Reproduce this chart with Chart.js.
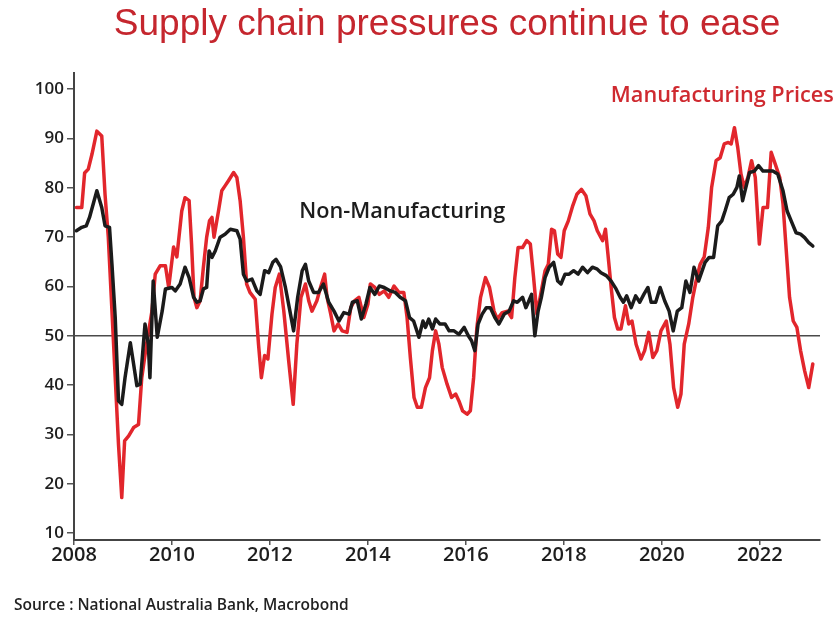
<!DOCTYPE html>
<html>
<head>
<meta charset="utf-8">
<script src="https://cdn.jsdelivr.net/npm/chart.js@4"></script>
<style>
  html, body { margin: 0; padding: 0; background: #fff; }
  #wrap { width: 837px; height: 619px; }
</style>
</head>
<body>
<div id="wrap"><canvas id="grafico" width="837" height="619"></canvas></div>
<script>
// months since Jan 2008, with the index value read at each point
const mesesManuf = [
  0.6, 1.9, 2.6, 3.5, 4.4, 5.6, 6.8, 7.6, 8.4, 9.3,
  10.1, 10.9, 11.7, 12.4, 13.4, 14.6, 15.8, 16.6, 17.9, 19.1,
  19.9, 21.1, 22.4, 23.2, 24.4, 25.2, 26.4, 27.2, 28.2, 28.8,
  29.4, 30.1, 30.9, 31.7, 32.5, 33.2, 33.8, 34.3, 35.4, 36.2,
  37, 37.8, 39.1, 39.9, 40.7, 41.5, 42.3, 43.1, 44.4, 45.2,
  45.9, 46.7, 47.5, 48.5, 49.3, 50.3, 51.4, 52.6, 53.7, 54.6,
  55.6, 56.7, 57.5, 58.3, 59.5, 60.5, 61.4, 62, 62.9, 63.7,
  64.7, 65.7, 66.9, 67.8, 68.7, 69.8, 71, 72, 72.6, 73.7,
  74.8, 76, 77.1, 78.4, 79.6, 80.8, 81.6, 82.4, 83.3, 84.1,
  85.1, 86.1, 87.1, 87.8, 88.6, 89.4, 90.2, 91.4, 92.5, 93.5,
  94.3, 95.2, 96.3, 97.1, 97.9, 98.7, 99.6, 100.8, 101.8, 102.9,
  103.7, 104.9, 106.2, 107.2, 108, 108.8, 109.9, 110.9, 111.8, 112.6,
  113.4, 114.2, 115.4, 116.2, 117, 117.7, 118.5, 119.3, 120.1, 121.1,
  122.2, 123.2, 124.3, 125.4, 126.4, 127.4, 128.2, 129.5, 130.2, 130.8,
  131.6, 132.4, 133.2, 134, 135.1, 135.9, 136.7, 137.7, 138.9, 139.8,
  140.8, 141.8, 142.8, 143.8, 145.1, 146, 146.9, 147.9, 148.7, 149.5,
  150.6, 151.6, 152.4, 153.4, 154.4, 155.4, 156.2, 157.3, 158.3, 159.3,
  160.3, 161, 161.8, 162.6, 163.4, 164.2, 165.1, 166, 166.9, 167.9,
  168.8, 169.9, 170.8, 171.8, 172.9, 173.7, 174.5, 175.3, 176.2, 177.1,
  178, 179, 180, 181
];
const precosManuf = [
  76, 76, 83, 83.8, 86.8, 91.5, 90.5, 78.7, 70, 55,
  41.5, 28, 17.2, 28.7, 29.7, 31.4, 32, 41.5, 49, 55,
  62.5, 64.2, 64.2, 59.8, 68, 66, 75.3, 78, 77.4, 68.6,
  57.8, 55.7, 57.1, 63.9, 70, 73.3, 74, 70, 75.3, 79.4,
  80.4, 81.4, 83.1, 82.1, 77.4, 70, 60.5, 58.8, 57.4, 48.3,
  41.5, 46, 45.3, 54.4, 59.8, 62.5, 55, 44.9, 36.1, 48.3,
  57.8, 60.5, 57.1, 55, 57.1, 60.1, 62.5, 57.8, 54.4, 51,
  52.4, 51, 50.7, 55.7, 57.1, 57.8, 53.7, 56.4, 60.5, 59.8,
  58.4, 59.1, 57.8, 60.1, 58.8, 58.8, 53.7, 45.6, 37.5, 35.5,
  35.5, 39.5, 41.5, 47, 51, 48.3, 43.6, 40.2, 37.5, 38.2,
  36.8, 34.8, 34.1, 34.8, 41.5, 51.7, 57.8, 61.8, 59.8, 55,
  53.4, 54.7, 55, 53.7, 61.8, 67.9, 67.9, 69.3, 68.6, 61.8,
  54.4, 57.8, 63.2, 64.5, 71.6, 71.3, 66.6, 65.9, 71.3, 73.3,
  76.4, 78.7, 79.7, 78.4, 74.7, 73.3, 71.3, 69.3, 71.6, 66.6,
  59.8, 53.7, 51.4, 51.4, 56.1, 52.4, 53, 48.3, 45.3, 47,
  50.7, 45.6, 47, 51, 53, 48.3, 39.5, 35.5, 38.2, 48.3,
  52.4, 57.8, 61.1, 64.5, 66, 72, 80, 85.5, 86.1, 88.9,
  89.2, 88.9, 92.2, 88.2, 82.8, 80.1, 82.1, 85.5, 82.1, 68.6,
  76, 76, 87.2, 84.8, 82.1, 76.7, 67.2, 57.8, 53, 51.7,
  47, 42.9, 39.5, 44.3
];

const mesesNaoManuf = [
  0.6, 1.9, 3, 3.8, 5.6, 6.8, 7.6, 8.7, 9.3, 10.1,
  10.9, 11.7, 12.5, 13.8, 14.6, 15.4, 16.2, 17.4, 18.2, 18.6,
  19.4, 20.4, 21.6, 22.4, 24, 24.8, 26, 27.2, 28.2, 29.3,
  30.1, 30.9, 31.7, 32.5, 33.1, 33.8, 34.6, 35.8, 37, 38.3,
  39.9, 40.7, 41.5, 42.3, 43.6, 44.8, 45.6, 46.7, 47.7, 48.7,
  49.5, 50.6, 51.8, 52.9, 53.8, 54.8, 55.9, 56.7, 57.5, 58.7,
  59.9, 61.1, 62.4, 63.7, 64.9, 66.1, 67.4, 68.2, 69.4, 70.4,
  71.5, 72.5, 73.7, 74.8, 76, 77.5, 78.7, 79.9, 81.2, 82.2,
  83.2, 84.5, 85.5, 86.1, 86.9, 87.8, 88.6, 89.6, 90.9, 91.9,
  93.1, 94.3, 95.6, 96.6, 97.4, 98.2, 99, 100, 101, 102,
  103.1, 104.1, 105.4, 106.6, 107.7, 108.6, 109.9, 110.7, 111.3, 112.1,
  112.9, 113.7, 114.5, 115.4, 116.4, 117.5, 118.5, 119.3, 120.3, 121.3,
  122.4, 123.5, 124.6, 125.8, 127, 128.2, 129.1, 130.4, 131.6, 132.8,
  133.8, 134.6, 135.4, 136.5, 137.6, 138.6, 139.6, 140.6, 141.4, 142.5,
  143.6, 144.7, 145.8, 146.8, 147.8, 148.9, 149.9, 150.9, 151.9, 153,
  154.6, 155.6, 156.7, 157.7, 158.7, 159.5, 160.5, 161.5, 162.4, 163,
  163.8, 164.6, 165.5, 166.7, 167.7, 168.8, 170, 171.2, 172.4, 173.7,
  174.7, 175.7, 176.9, 178, 179, 180, 181
];
const precosNaoManuf = [
  71.3, 72, 72.3, 74, 79.4, 76, 72.3, 72, 64.5, 53.7,
  36.8, 36.1, 41.5, 48.6, 44.3, 39.9, 40.2, 52.4, 48.3, 41.5,
  61.1, 49.7, 55, 59.5, 59.8, 59.1, 60.5, 63.9, 61.8, 57.8,
  56.8, 57.1, 59.5, 59.8, 67.2, 65.9, 67.2, 70, 70.6, 71.6,
  71.3, 69.6, 62.5, 61.1, 61.5, 59.1, 58.4, 63.2, 62.8, 64.9,
  65.5, 64, 59.8, 55, 51, 57.8, 63.2, 64.5, 61.1, 58.8,
  58.8, 60.5, 56.8, 55, 53, 54.7, 54.4, 56.8, 57.1, 53.4,
  56.4, 59.8, 58.4, 60.1, 59.8, 59.1, 58.8, 57.8, 57.1, 53.7,
  53, 49.7, 53, 51.7, 53.4, 51.4, 53.4, 52.4, 52.4, 51,
  51, 50.3, 51.7, 50, 49, 47, 52.4, 54.4, 55.7, 55.7,
  53.7, 52.4, 54.4, 55, 57.1, 56.8, 57.8, 55.7, 56.8, 58.4,
  50, 55, 57.8, 61.8, 63.9, 64.9, 61.1, 60.5, 62.5, 62.5,
  63.2, 62.5, 63.9, 62.8, 63.9, 63.5, 62.8, 62.2, 61.1, 59.5,
  57.8, 56.8, 58.1, 55.7, 58.1, 56.8, 58.4, 59.8, 56.8, 56.8,
  59.8, 57.1, 55, 51, 55, 55.7, 61.1, 58.8, 63.9, 61.1,
  64.9, 65.9, 65.9, 72.3, 73.3, 75.3, 78, 78.7, 80.1, 82.4,
  77.4, 80.1, 83.1, 83.4, 84.5, 83.4, 83.4, 83.4, 82.8, 79.4,
  75.3, 73.3, 70.9, 70.6, 69.9, 68.9, 68.2
];

const anosTicks = [2008, 2010, 2012, 2014, 2016, 2018, 2020, 2022];
const valoresTicks = [10, 20, 30, 40, 50, 60, 70, 80, 90, 100];
const linhaNeutra = 50;
const anoInicial = 2008;
const anoFinal = 2023.23;

const paraPontos = (meses, valores) => meses.map((m, i) => ({ x: anoInicial + m / 12, y: valores[i] }));

const vermelho = '#e2262c';
const fonteBase = '"Open Sans", "Liberation Sans", sans-serif';

// texts placed on the plot: series names and the source line
const rotulos = {
  id: 'rotulos',
  afterDatasetsDraw(chart) {
    const { ctx, scales: { x, y } } = chart;
    ctx.save();
    ctx.textAlign = 'left';
    ctx.textBaseline = 'middle';
    ctx.font = '600 21.7px ' + fonteBase;
    ctx.fillStyle = '#1c1c1c';
    ctx.fillText('Non-Manufacturing', x.getPixelForValue(2012.6), y.getPixelForValue(75.1));
    ctx.fillStyle = '#cf2a30';
    ctx.fillText('Manufacturing Prices', x.getPixelForValue(2018.96), y.getPixelForValue(98.6));
    ctx.font = '600 15.5px ' + fonteBase;
    ctx.fillStyle = '#222';
    ctx.fillText('Source : National Australia Bank, Macrobond', 14, 606);
    ctx.restore();
  }
};

new Chart(document.getElementById('grafico').getContext('2d'), {
  type: 'line',
  data: {
    datasets: [
      {
        label: 'Non-Manufacturing',
        data: paraPontos(mesesNaoManuf, precosNaoManuf),
        borderColor: '#1b1b1b',
        borderWidth: 3.5,
        pointRadius: 0,
        borderJoinStyle: 'round',
        borderCapStyle: 'round',
        tension: 0
      },
      {
        label: 'Manufacturing Prices',
        data: paraPontos(mesesManuf, precosManuf),
        borderColor: vermelho,
        borderWidth: 3.5,
        pointRadius: 0,
        borderJoinStyle: 'round',
        borderCapStyle: 'round',
        tension: 0
      },
      {
        label: '50',
        data: [{ x: anoInicial, y: linhaNeutra }, { x: anoFinal, y: linhaNeutra }],
        borderColor: '#4a4a4a',
        borderWidth: 1.5,
        pointRadius: 0
      }
    ]
  },
  options: {
    responsive: false,
    animation: false,
    layout: { padding: { left: 0, right: 17, top: 0, bottom: 0 } },
    scales: {
      x: {
        type: 'linear',
        min: anoInicial,
        max: anoFinal,
        afterBuildTicks: scale => { scale.ticks = anosTicks.map(v => ({ value: v })); },
        afterFit: scale => { scale.height = 79; },
        grid: { drawOnChartArea: false, drawTicks: true, tickLength: 5, color: '#555', lineWidth: 1.5 },
        border: { display: true, color: '#444', width: 2 },
        ticks: {
          color: '#1e1e1e',
          font: { family: fonteBase, size: 20, weight: '600' },
          padding: -2,
          maxRotation: 0,
          callback: v => String(v)
        }
      },
      y: {
        min: 8.6,
        max: 103.2,
        afterBuildTicks: scale => { scale.ticks = valoresTicks.map(v => ({ value: v })); },
        afterFit: scale => { scale.width = 74; },
        grid: { drawOnChartArea: false, drawTicks: true, tickLength: 7, color: '#555', lineWidth: 1.5 },
        border: { display: true, color: '#444', width: 2 },
        ticks: {
          color: '#1e1e1e',
          font: { family: fonteBase, size: 17, weight: '600' },
          padding: 3
        }
      }
    },
    plugins: {
      legend: { display: false },
      tooltip: { enabled: false },
      title: {
        display: true,
        fullSize: false,
        text: 'Supply chain pressures continue to ease',
        color: '#c5262e',
        font: { family: '"Liberation Sans", Arial, sans-serif', size: 37, weight: 'normal' },
        padding: { top: 3, bottom: 26 }
      }
    }
  },
  plugins: [rotulos]
});
</script>
</body>
</html>
